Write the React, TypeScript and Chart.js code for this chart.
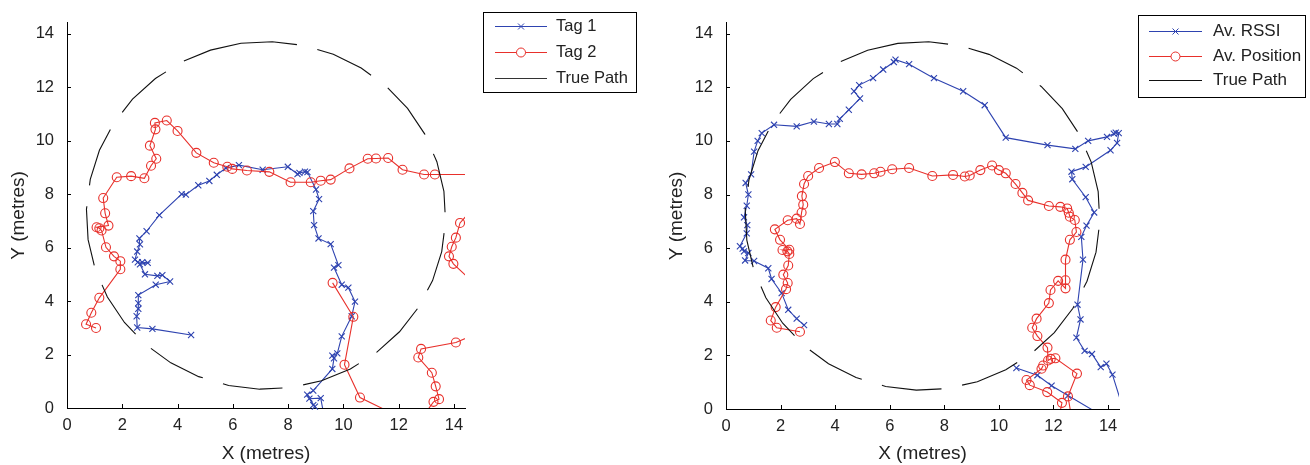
import React, { useEffect, useRef } from 'react';
import { Chart, registerables } from 'chart.js';

Chart.register(...registerables);

type P = [number, number];

// ---------- data (metres) ----------
const tag1: P[] = [
  [4.49, 2.73], [3.09, 2.96], [2.54, 3.01], [2.52, 3.43], [2.58, 3.71], [2.58, 3.92], [2.58, 4.22],
  [3.21, 4.61], [3.73, 4.73], [3.45, 4.97], [3.27, 4.94], [2.82, 5.0], [2.64, 5.37], [2.92, 5.43],
  [2.72, 5.45], [2.56, 5.45], [2.46, 5.55], [2.54, 5.85], [2.64, 6.12], [2.62, 6.34], [2.88, 6.61],
  [3.34, 7.21], [4.15, 8.0], [4.3, 7.98], [4.75, 8.33], [5.15, 8.49], [5.42, 8.72], [5.75, 8.97],
  [6.22, 9.08], [7.08, 8.91], [7.99, 9.02], [8.34, 8.75], [8.41, 8.79], [8.61, 8.84], [8.7, 8.82],
  [9.01, 8.17], [9.12, 7.81], [8.91, 7.36], [8.94, 6.84], [9.1, 6.34], [9.54, 6.13], [9.82, 5.34],
  [9.66, 5.25], [9.94, 4.61], [10.18, 4.5], [10.42, 3.98], [10.3, 3.43], [9.94, 2.68], [9.78, 2.04],
  [9.6, 1.96], [9.66, 1.86], [9.6, 1.46], [8.91, 0.65], [8.69, 0.5], [8.91, 0.11], [8.97, 0.05],
  [8.77, 0.35], [9.18, 0.37], [9.3, -0.3],
];

const tag2: P[] = [
  [1.05, 2.99], [0.69, 3.13], [0.88, 3.56], [1.17, 4.12], [1.93, 5.19], [1.93, 5.49], [1.7, 5.67],
  [1.41, 6.01], [1.25, 6.64], [1.17, 6.72], [1.07, 6.76], [1.5, 6.82], [1.38, 7.28], [1.31, 7.85],
  [1.8, 8.63], [2.32, 8.67], [2.8, 8.59], [3.04, 9.06], [3.23, 9.32], [3.0, 9.81], [3.2, 10.42],
  [3.18, 10.66], [3.61, 10.75], [4.0, 10.36], [4.68, 9.54], [5.31, 9.17], [5.8, 9.02], [5.98, 8.94],
  [6.51, 8.88], [7.32, 8.83], [8.09, 8.44], [8.82, 8.44], [9.18, 8.5], [9.54, 8.54], [10.22, 8.96],
  [10.88, 9.32], [11.18, 9.33], [11.62, 9.35], [12.14, 8.91], [12.92, 8.73], [13.31, 8.73],
  [14.8, 8.73], [14.8, 7.6], [14.22, 6.92], [14.07, 6.37], [13.92, 6.03], [13.82, 5.67], [13.98, 5.39],
  [14.8, 4.6], [14.8, 2.77], [14.07, 2.45], [12.81, 2.21], [12.71, 1.89], [13.2, 1.32], [13.34, 0.81],
  [13.46, 0.33], [13.26, 0.23], [12.89, -0.3], [11.97, -0.3], [10.6, 0.39], [10.04, 1.62],
  [10.36, 3.41], [9.61, 4.68],
];

const truePath: P[] = [
  [6.295, 13.637], [5.191, 13.382], [4.148, 12.939], [3.198, 12.322], [2.37, 11.549], [1.688, 10.644],
  [1.173, 9.635], [0.842, 8.551], [0.704, 7.427], [0.763, 6.295], [1.018, 5.191], [1.461, 4.148],
  [2.078, 3.198], [2.851, 2.37], [3.756, 1.688], [4.765, 1.173], [5.849, 0.842], [6.973, 0.704],
  [8.105, 0.763], [9.209, 1.018], [10.252, 1.461], [11.202, 2.078], [12.03, 2.851], [12.712, 3.756],
  [13.227, 4.765], [13.558, 5.849], [13.696, 6.973], [13.637, 8.105], [13.382, 9.209], [12.939, 10.252],
  [12.322, 11.202], [11.549, 12.03], [10.644, 12.712], [9.635, 13.227], [8.551, 13.558], [7.427, 13.696],
  [6.295, 13.637],
];

const avRssi: P[] = [
  [2.86, 3.13], [2.59, 3.37], [2.28, 3.7], [2.04, 4.32], [1.67, 4.85], [1.55, 5.25], [1.03, 5.52],
  [0.7, 5.54], [0.82, 5.82], [0.66, 5.88], [0.61, 5.98], [0.51, 6.07], [0.76, 6.55], [0.78, 6.86],
  [0.66, 7.15], [0.76, 7.58], [0.82, 8.0], [0.72, 8.43], [0.92, 8.75], [1.03, 9.6], [1.16, 10.0],
  [1.31, 10.29], [1.76, 10.6], [2.59, 10.54], [3.22, 10.72], [3.77, 10.63], [4.08, 10.63], [4.17, 10.82],
  [4.5, 11.16], [4.91, 11.58], [4.69, 11.85], [4.88, 12.08], [5.39, 12.34], [5.76, 12.66], [6.15, 12.94],
  [6.21, 13.03], [6.71, 12.86], [7.62, 12.34], [8.69, 11.85], [9.48, 11.33], [10.25, 10.12],
  [11.78, 9.84], [12.8, 9.7], [13.27, 10.0], [13.96, 10.15], [14.21, 10.27], [14.28, 10.31],
  [14.39, 10.29], [14.33, 9.92], [14.09, 9.65], [13.18, 9.03], [12.66, 8.85], [12.69, 8.57],
  [13.18, 7.9], [13.49, 7.33], [13.21, 6.84], [13.02, 6.42], [13.08, 5.57], [12.88, 3.89],
  [12.99, 3.34], [12.84, 2.66], [13.14, 2.17], [13.41, 2.05], [13.73, 1.56], [13.94, 1.69],
  [14.16, 1.28], [14.43, 0.4], [14.62, -0.3], [13.87, -0.3], [12.53, 0.5], [11.93, 0.87],
  [11.41, 1.26], [10.64, 1.53],
];

const avPosition: P[] = [
  [2.71, 2.88], [1.86, 3.03], [1.64, 3.3], [1.82, 3.8], [2.2, 4.47], [2.26, 4.7], [2.1, 5.01],
  [2.28, 5.35], [2.32, 5.78], [2.25, 5.88], [2.07, 5.93], [2.32, 5.94], [1.98, 6.31], [1.79, 6.7],
  [2.26, 7.04], [2.59, 7.1], [2.71, 6.9], [2.77, 7.33], [2.83, 7.62], [2.78, 7.94], [2.86, 8.39],
  [3.01, 8.69], [3.41, 8.99], [3.99, 9.21], [4.5, 8.79], [4.97, 8.75], [5.43, 8.79], [5.66, 8.85],
  [6.09, 8.94], [6.71, 8.99], [7.56, 8.69], [8.32, 8.73], [8.75, 8.67], [8.93, 8.71], [9.32, 8.91],
  [9.75, 9.08], [10.0, 8.91], [10.25, 8.79], [10.61, 8.39], [10.86, 8.06], [11.07, 7.78], [11.83, 7.57],
  [12.25, 7.54], [12.5, 7.48], [12.56, 7.32], [12.6, 7.17], [12.78, 7.05], [12.84, 6.6], [12.6, 6.31],
  [12.44, 5.57], [12.44, 4.8], [12.44, 4.5], [12.17, 4.78], [11.89, 4.44], [11.83, 3.95], [11.38, 3.37],
  [11.22, 3.03], [11.41, 2.72], [11.78, 2.29], [11.8, 1.81], [11.9, 1.87], [12.07, 1.89], [12.86, 1.32],
  [12.53, 0.47], [12.66, -0.3], [12.2, -0.3], [12.31, 0.23], [11.77, 0.63], [11.13, 0.89],
  [11.01, 1.08], [11.56, 1.5], [11.62, 1.62],
];

const tickValues = [0, 2, 4, 6, 8, 10, 12, 14];
const tickLabels = ['0', '2', '4', '6', '8', '10', '12', '14'];
const AXIS_MIN = 0;
const AXIS_MAX = 14.4;

const leftLegendLabels = ['Tag 1', 'Tag 2', 'True Path'];
const rightLegendLabels = ['Av. RSSI', 'Av. Position', 'True Path'];
const xTitle = 'X (metres)';
const yTitle = 'Y (metres)';

// ---------- styles ----------
const FONT = "'Liberation Sans', Arial, Helvetica, sans-serif";
const BLUE = '#2e43b0';
const RED = '#e8302b';
const BLACK = '#111111';
const TEXT = '#222222';
const CW = 655;
const CH = 465;

const inRange = (p: { x: number; y: number }) =>
  p.x >= AXIS_MIN && p.x <= AXIS_MAX && p.y >= AXIS_MIN && p.y <= AXIS_MAX;

function seriesSets(label: string, pts: P[], color: string, marker: string, radius: number) {
  const data = pts.map(([x, y]) => ({ x, y }));
  return [
    {
      label, data, showLine: true, borderColor: color, borderWidth: 1.1, pointRadius: 0,
      tension: 0, clip: 0, fill: false,
    },
    {
      label: label + ' markers', data: data.filter(inRange), showLine: false, pointStyle: marker,
      pointRadius: radius, borderColor: color, backgroundColor: 'rgba(0,0,0,0)', borderWidth: 1.1,
      pointBorderWidth: 1.1, clip: false,
    },
  ];
}

function pathSet(pts: P[]) {
  return {
    label: 'True Path', data: pts.map(([x, y]) => ({ x, y })), showLine: true, borderColor: BLACK,
    borderWidth: 1.1, pointRadius: 0, borderDash: [60, 21], tension: 0, clip: 0, fill: false,
  };
}

const matlabPlugin = {
  id: 'matlab',
  afterDraw(chart: any, _args: any, opts: any) {
    const { ctx, chartArea: a, scales } = chart;
    ctx.save();
    ctx.strokeStyle = '#000';
    ctx.lineWidth = 1;
    ctx.setLineDash([]);
    ctx.beginPath();
    for (const t of scales.x.ticks) {
      const px = Math.round(scales.x.getPixelForValue(t.value)) + 0.5;
      ctx.moveTo(px, a.bottom);
      ctx.lineTo(px, a.bottom - 4);
    }
    for (const t of scales.y.ticks) {
      const py = Math.round(scales.y.getPixelForValue(t.value)) + 0.5;
      ctx.moveTo(a.left, py);
      ctx.lineTo(a.left + 4, py);
    }
    ctx.stroke();

    const L = opts.legend;
    if (L) {
      ctx.fillStyle = '#fff';
      ctx.fillRect(L.x, L.y, L.w, L.h);
      ctx.strokeStyle = '#000';
      ctx.strokeRect(L.x + 0.5, L.y + 0.5, L.w, L.h);
      L.items.forEach((it: any, i: number) => {
        const y = Math.round(L.rows[i]) + 0.5;
        ctx.strokeStyle = it.color;
        ctx.lineWidth = 1;
        ctx.beginPath();
        ctx.moveTo(L.lineX0, y);
        ctx.lineTo(L.lineX1, y);
        ctx.stroke();
        const cx = (L.lineX0 + L.lineX1) / 2;
        if (it.marker === 'x') {
          ctx.beginPath();
          ctx.moveTo(cx - 3, y - 3); ctx.lineTo(cx + 3, y + 3);
          ctx.moveTo(cx + 3, y - 3); ctx.lineTo(cx - 3, y + 3);
          ctx.stroke();
        } else if (it.marker === 'o') {
          ctx.fillStyle = '#fff';
          ctx.beginPath();
          ctx.arc(cx, y, 4.5, 0, Math.PI * 2);
          ctx.fill();
          ctx.stroke();
        }
        ctx.fillStyle = TEXT;
        ctx.font = `${L.fontSize}px ${FONT}`;
        ctx.textBaseline = 'middle';
        ctx.textAlign = 'left';
        ctx.fillText(it.label, L.textX, y);
      });
    }
    ctx.restore();
  },
};

function makeConfig(datasets: any[], area: any, legend: any, yTitlePad: number) {
  return {
    type: 'scatter',
    data: { datasets },
    plugins: [matlabPlugin],
    options: {
      responsive: false,
      animation: false,
      events: [],
      layout: { padding: { left: 0, top: area.top, right: CW - area.right, bottom: 0 } },
      plugins: {
        legend: { display: false },
        tooltip: { enabled: false },
        matlab: { legend },
      },
      scales: {
        x: {
          type: 'linear', min: AXIS_MIN, max: AXIS_MAX,
          afterBuildTicks: (s: any) => { s.ticks = tickValues.map((v) => ({ value: v })); },
          afterFit: (s: any) => { s.height = CH - area.bottom; },
          grid: { display: true, drawOnChartArea: false, drawTicks: false },
          border: { display: true, color: '#000', width: 1 },
          ticks: {
            font: { family: FONT, size: 16.5 }, color: TEXT, padding: 8, maxRotation: 0, autoSkip: false,
            callback: (_v: any, i: number) => tickLabels[i],
          },
          title: {
            display: true, text: xTitle, color: TEXT, font: { family: FONT, size: 19 },
            padding: { top: 0, bottom: 0 },
          },
        },
        y: {
          type: 'linear', min: AXIS_MIN, max: AXIS_MAX,
          afterBuildTicks: (s: any) => { s.ticks = tickValues.map((v) => ({ value: v })); },
          afterFit: (s: any) => { s.width = area.left; },
          grid: { display: true, drawOnChartArea: false, drawTicks: false },
          border: { display: true, color: '#000', width: 1 },
          ticks: {
            font: { family: FONT, size: 16.5 }, color: TEXT, padding: 13, autoSkip: false,
            callback: (_v: any, i: number) => tickLabels[i],
          },
          title: {
            display: true, text: yTitle, color: TEXT, font: { family: FONT, size: 19 },
            padding: { top: yTitlePad, bottom: 0 },
          },
        },
      },
    },
  };
}

export default function App() {
  const leftRef = useRef<HTMLCanvasElement>(null);
  const rightRef = useRef<HTMLCanvasElement>(null);

  useEffect(() => {
    const leftSets = [
      pathSet(truePath),
      ...seriesSets(leftLegendLabels[1], tag2, RED, 'circle', 4.5),
      ...seriesSets(leftLegendLabels[0], tag1, BLUE, 'crossRot', 4.3),
    ];
    const rightSets = [
      pathSet(truePath),
      ...seriesSets(rightLegendLabels[1], avPosition, RED, 'circle', 4.5),
      ...seriesSets(rightLegendLabels[0], avRssi, BLUE, 'crossRot', 4.3),
    ];
    const leftLegend = {
      x: 483, y: 12, w: 153, h: 80, rows: [26, 52, 78], lineX0: 495, lineX1: 547, textX: 556,
      fontSize: 16.5,
      items: [
        { label: leftLegendLabels[0], color: BLUE, marker: 'x' },
        { label: leftLegendLabels[1], color: RED, marker: 'o' },
        { label: leftLegendLabels[2], color: '#333', marker: '' },
      ],
    };
    const rightLegend = {
      x: 483, y: 15, w: 167, h: 82, rows: [31, 56, 80], lineX0: 494, lineX1: 547, textX: 558,
      fontSize: 17,
      items: [
        { label: rightLegendLabels[0], color: BLUE, marker: 'x' },
        { label: rightLegendLabels[1], color: RED, marker: 'o' },
        { label: rightLegendLabels[2], color: BLACK, marker: '' },
      ],
    };
    const c1 = new Chart(leftRef.current as HTMLCanvasElement,
      makeConfig(leftSets, { left: 67, right: 465, top: 12, bottom: 408 }, leftLegend, 7) as any);
    const c2 = new Chart(rightRef.current as HTMLCanvasElement,
      makeConfig(rightSets, { left: 71, right: 464, top: 15, bottom: 409 }, rightLegend, 10) as any);
    return () => { c1.destroy(); c2.destroy(); };
  }, []);

  return (
    <div style={{ position: 'fixed', left: 0, top: 0, width: 1310, height: 465, background: '#fff' }}>
      <canvas ref={leftRef} width={CW} height={CH}
        style={{ position: 'absolute', left: 0, top: 0, width: CW, height: CH }} />
      <canvas ref={rightRef} width={CW} height={CH}
        style={{ position: 'absolute', left: CW, top: 0, width: CW, height: CH }} />
    </div>
  );
}
